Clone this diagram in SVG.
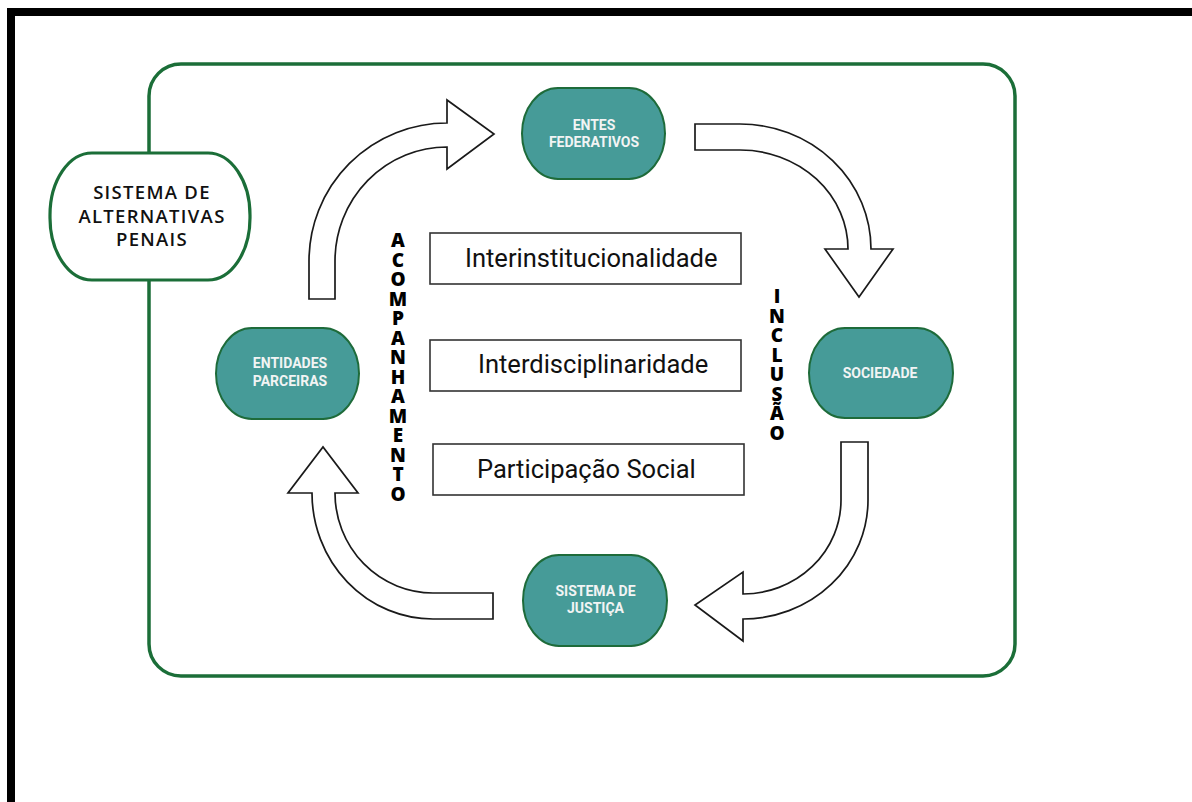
<svg xmlns="http://www.w3.org/2000/svg" width="1192" height="802" viewBox="0 0 1192 802">
  <style>
    .frame { fill: none; stroke: #000; stroke-width: 8; }
    .panel { fill: #fff; stroke: #1b6e38; stroke-width: 3.5; }
    .system { fill: #fff; stroke: #1b6e38; stroke-width: 3.2; }
    .system-text { font-family: "Open Sans", "Liberation Sans", sans-serif; font-weight: 600; font-size: 18.5px; letter-spacing: 1.3px; fill: #111; text-anchor: middle; }
    .actor { fill: #469b98; stroke: #1e6b3a; stroke-width: 2; }
    .actor-text { font-family: Roboto, "Liberation Sans", sans-serif; font-weight: 700; font-size: 14px; fill: #f2f4f4; text-anchor: middle; }
    .principle { fill: #fff; stroke: #333; stroke-width: 1.6; }
    .principle-text { font-family: Roboto, "Liberation Sans", sans-serif; font-size: 25.5px; fill: #111; }
    .flow { fill: #fff; stroke: #1a1a1a; stroke-width: 1.7; stroke-linejoin: miter; }
    .axis-text { font-family: "Open Sans", "Liberation Sans", sans-serif; font-weight: 800; font-size: 19px; fill: #000; text-anchor: middle; }
  </style>

  <!-- page border -->
  <rect class="frame" x="11" y="12" width="1200" height="820"/>

  <!-- main panel -->
  <rect class="panel" x="149" y="64" width="866" height="612" rx="32" ry="32"/>

  <!-- curved flow arrows -->
  <g id="connectors">
    <path id="flow-entidades-entes" class="flow" d="M 309 299 L 309 261 A 138 138 0 0 1 447 123 L 447 100 L 494 134 L 447 169 L 447 147 A 112 114 0 0 0 335 261 L 335 299 Z"/>
    <path id="flow-entes-sociedade" class="flow" d="M 695 124 L 740 124 A 131 125 0 0 1 871 249 L 893 249 L 859 297 L 825 249 L 848 249 A 108 99 0 0 0 740 150 L 695 150 Z"/>
    <path id="flow-sociedade-justica" class="flow" d="M 841 442 L 868 442 L 868 500 A 125 119 0 0 1 743 619 L 743 641 L 695 605 L 743 572 L 743 594 A 98 94 0 0 0 841 500 Z"/>
    <path id="flow-justica-entidades" class="flow" d="M 493 593 L 493 619 L 433 619 A 121 126 0 0 1 312 493 L 288 493 L 323 447 L 358 493 L 335 493 A 98 100 0 0 0 433 593 Z"/>
  </g>

  <!-- system title -->
  <g id="sistema-alternativas-penais">
    <rect class="system" x="50" y="153" width="200" height="127" rx="42" ry="62"/>
    <text class="system-text" x="152" y="199">SISTEMA DE</text>
    <text class="system-text" x="152" y="222.5">ALTERNATIVAS</text>
    <text class="system-text" x="152" y="246">PENAIS</text>
  </g>

  <!-- actors -->
  <g id="entes-federativos">
    <rect class="actor" x="522" y="88" width="143" height="91" rx="36" ry="45.5"/>
    <text class="actor-text" x="594" y="129.5">ENTES</text>
    <text class="actor-text" x="594" y="147">FEDERATIVOS</text>
  </g>
  <g id="sociedade">
    <rect class="actor" x="809" y="328" width="144" height="90" rx="36" ry="45"/>
    <text class="actor-text" x="880" y="378">SOCIEDADE</text>
  </g>
  <g id="sistema-de-justica">
    <rect class="actor" x="523" y="555" width="144" height="91" rx="36" ry="45.5"/>
    <text class="actor-text" x="595.5" y="596">SISTEMA DE</text>
    <text class="actor-text" x="595.5" y="613">JUSTIÇA</text>
  </g>
  <g id="entidades-parceiras">
    <rect class="actor" x="216" y="328" width="143" height="91" rx="36" ry="45.5"/>
    <text class="actor-text" x="290" y="368">ENTIDADES</text>
    <text class="actor-text" x="290" y="386">PARCEIRAS</text>
  </g>

  <!-- guiding principles -->
  <g id="interinstitucionalidade">
    <rect class="principle" x="430" y="233" width="311" height="51"/>
    <text class="principle-text" x="465" y="267">Interinstitucionalidade</text>
  </g>
  <g id="interdisciplinaridade">
    <rect class="principle" x="430" y="340" width="311" height="51"/>
    <text class="principle-text" x="478" y="373">Interdisciplinaridade</text>
  </g>
  <g id="participacao-social">
    <rect class="principle" x="433" y="444" width="311" height="51"/>
    <text class="principle-text" x="477" y="478">Participação Social</text>
  </g>

  <!-- vertical axis labels, one letter per row -->
  <g id="acompanhamento">
    <text class="axis-text" x="398" y="247">A</text>
    <text class="axis-text" x="398" y="266.5">C</text>
    <text class="axis-text" x="398" y="286">O</text>
    <text class="axis-text" x="398" y="305.5">M</text>
    <text class="axis-text" x="398" y="325">P</text>
    <text class="axis-text" x="398" y="344.5">A</text>
    <text class="axis-text" x="398" y="364">N</text>
    <text class="axis-text" x="398" y="383.5">H</text>
    <text class="axis-text" x="398" y="403">A</text>
    <text class="axis-text" x="398" y="422.5">M</text>
    <text class="axis-text" x="398" y="442">E</text>
    <text class="axis-text" x="398" y="461.5">N</text>
    <text class="axis-text" x="398" y="481">T</text>
    <text class="axis-text" x="398" y="500.5">O</text>
  </g>
  <g id="inclusao">
    <text class="axis-text" x="777" y="303">I</text>
    <text class="axis-text" x="777" y="322.5">N</text>
    <text class="axis-text" x="777" y="342">C</text>
    <text class="axis-text" x="777" y="361.5">L</text>
    <text class="axis-text" x="777" y="381">U</text>
    <text class="axis-text" x="777" y="400.5">S</text>
    <text class="axis-text" x="777" y="420">Ã</text>
    <text class="axis-text" x="777" y="439.5">O</text>
  </g>
</svg>
